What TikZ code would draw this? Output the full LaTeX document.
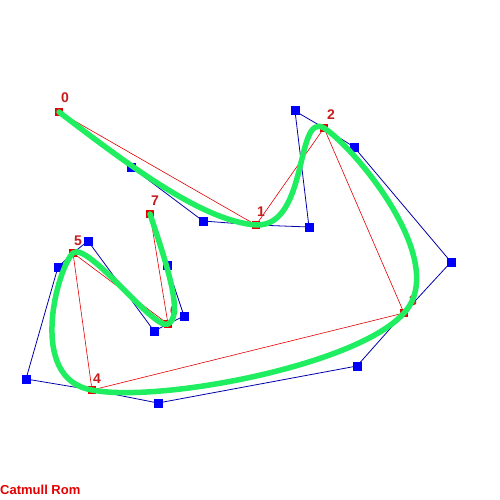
\documentclass[tikz,border=0pt]{standalone}
\usepackage{fontspec}
\setmainfont{Liberation Sans}
\definecolor{knotred}{RGB}{228,0,0}
\definecolor{labred}{RGB}{200,28,28}
\definecolor{ctrlblue}{RGB}{0,0,250}
\definecolor{lineblue}{RGB}{0,0,170}
\definecolor{curvegreen}{RGB}{30,238,95}
\begin{document}
\begin{tikzpicture}[x=1pt,y=-1pt,
  knot/.style={draw=none,fill=knotred,minimum size=8pt,inner sep=0pt,outer sep=0pt},
  ctrl/.style={draw=none,fill=ctrlblue,minimum size=9pt,inner sep=0pt,outer sep=0pt},
  lab/.style={text=labred,font=\bfseries\fontsize{14}{14}\selectfont,inner sep=0pt},
  ctrlline/.style={draw=lineblue,line width=0.8pt},
  knotline/.style={draw=knotred,line width=0.6pt},
  spline/.style={draw=curvegreen,line width=5.5pt,line cap=round,line join=round}]
\useasboundingbox (0,0) rectangle (500,500);
\fill[white] (0,0) rectangle (500,500);
% control points
\coordinate (c0a) at (131,167);
\coordinate (c0b) at (203,221);
\coordinate (c1a) at (309,227);
\coordinate (c1b) at (295,111);
\coordinate (c2a) at (354,147);
\coordinate (c2b) at (451,262);
\coordinate (c3a) at (357,366);
\coordinate (c3b) at (158,403);
\coordinate (c4a) at (26,379);
\coordinate (c4b) at (58,267);
\coordinate (c5a) at (88,241);
\coordinate (c5b) at (154,331);
\coordinate (c6a) at (184,316);
\coordinate (c6b) at (167,265);
% knots
\coordinate (p0) at (59,112);
\coordinate (p1) at (256,225);
\coordinate (p2) at (324,128);
\coordinate (p3) at (404,313);
\coordinate (p4) at (92,390);
\coordinate (p5) at (73,253);
\coordinate (p6) at (168,324);
\coordinate (p7) at (150,214);
% control polygon
\draw[ctrlline] (p0) -- (c0a) -- (c0b) -- (p1) -- (c1a) -- (c1b) -- (p2) -- (c2a) -- (c2b) -- (p3)
  -- (c3a) -- (c3b) -- (p4) -- (c4a) -- (c4b) -- (p5) -- (c5a) -- (c5b) -- (p6) -- (c6a) -- (c6b) -- (p7);
% knot polygon
\draw[knotline] (p0) -- (p1) -- (p2) -- (p3) -- (p4) -- (p5) -- (p6) -- (p7);
% squares
\foreach \c in {c0a,c0b,c1a,c1b,c2a,c2b,c3a,c3b,c4a,c4b,c5a,c5b,c6a,c6b}
  \node[ctrl] (s\c) at (\c) {};
\foreach \p in {p0,p1,p2,p3,p4,p5,p6,p7}
  \node[knot] (s\p) at (\p) {};
% labels
\node[lab] (l0) at (65,98) {0};
\node[lab] (l1) at (261,212) {1};
\node[lab] (l2) at (331,115) {2};
\node[lab] (l3) at (413,301) {3};
\node[lab] (l4) at (97,379) {4};
\node[lab] (l5) at (78,241) {5};
\node[lab] (l6) at (174,311) {6};
\node[lab] (l7) at (155,201) {7};
% spline
\draw[spline] (p0) .. controls (c0a) and (c0b) .. (p1)
  .. controls (c1a) and (c1b) .. (p2)
  .. controls (c2a) and (c2b) .. (p3)
  .. controls (c3a) and (c3b) .. (p4)
  .. controls (c4a) and (c4b) .. (p5)
  .. controls (c5a) and (c5b) .. (p6)
  .. controls (c6a) and (c6b) .. (p7);
\node[text=knotred,font=\bfseries\fontsize{13}{13}\selectfont,anchor=base west,inner sep=0pt] (title) at (0,494) {Catmull Rom};
\end{tikzpicture}
\end{document}
